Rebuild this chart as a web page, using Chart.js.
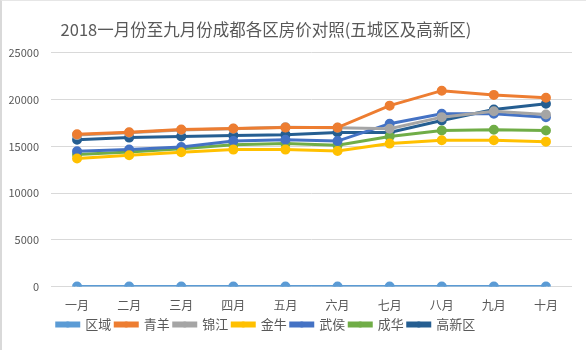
<!DOCTYPE html>
<html>
<head>
<meta charset="utf-8">
<title>成都各区房价</title>
<script src="https://cdn.jsdelivr.net/npm/chart.js@4.4.1/dist/chart.umd.min.js"></script>
<style>
  html, body { margin: 0; padding: 0; background: #fff; }
  #wrap { position: relative; width: 586px; height: 350px; box-sizing: border-box; border-left: 2px solid #d9d9d9; border-top: 1px solid #e6e6e6; }
</style>
</head>
<body>
<div id="wrap"><canvas id="myChart" width="584" height="349"></canvas></div>
<script>
  var months = ["一月","二月","三月","四月","五月","六月","七月","八月","九月","十月"];

  var quyu     = [0, 0, 0, 0, 0, 0, 0, 0, 0, 0];
  var qingyang = [16300, 16500, 16800, 16900, 17000, 17000, 19350, 20950, 20500, 20200];
  var jinjiang = [16200, 16450, 16750, 16880, 17050, 16990, 16880, 18120, 18750, 18400];
  var jinniu   = [13700, 14050, 14360, 14650, 14650, 14500, 15290, 15640, 15640, 15500];
  var wuhou    = [14470, 14650, 14930, 15560, 15710, 15560, 17420, 18480, 18480, 18120];
  var chenghua = [14120, 14390, 14750, 15180, 15290, 15110, 16060, 16700, 16780, 16700];
  var gaoxin   = [15710, 15930, 16060, 16170, 16250, 16490, 16490, 17770, 18940, 19550];

  var yTicks = [0, 5000, 10000, 15000, 20000, 25000];

  function line(name, values, color) {
    return {
      label: name,
      data: values,
      borderColor: color,
      backgroundColor: color,
      borderWidth: 3,
      pointRadius: 3.5,
      pointHoverRadius: 3.5,
      pointBackgroundColor: color,
      pointBorderColor: color,
      tension: 0
    };
  }

  var legendShift = -21;
  var titleShift = -21;

  // title and legend sit a bit left of centre in the original, each legend key has a dot
  var tweaks = {
    id: "tweaks",
    afterLayout: function (chart) {
      var lg = chart.legend;
      lg.left += legendShift;
      lg.right += legendShift;
      lg.legendHitBoxes.forEach(function (b) { b.left += legendShift; });
      var t = chart.titleBlock;
      if (t) { t.left += titleShift; t.right += titleShift; }
    },
    afterDraw: function (chart) {
      var lg = chart.legend;
      if (!lg || !lg.legendHitBoxes) return;
      var c = chart.ctx;
      var bw = lg.options.labels.boxWidth;
      lg.legendHitBoxes.forEach(function (box, i) {
        var ds = chart.data.datasets[i];
        c.save();
        c.fillStyle = ds.borderColor;
        c.beginPath();
        c.arc(box.left + bw / 2, box.top + box.height / 2, 3, 0, Math.PI * 2);
        c.fill();
        c.restore();
      });
    }
  };

  var ctx = document.getElementById("myChart");
  var font = "'Noto Sans CJK SC', 'Noto Sans', sans-serif";

  new Chart(ctx, {
    type: "line",
    data: {
      labels: months,
      datasets: [
        line("区域", quyu, "#5B9BD5"),
        line("青羊", qingyang, "#ED7D31"),
        line("锦江", jinjiang, "#A5A5A5"),
        line("金牛", jinniu, "#FFC000"),
        line("武侯", wuhou, "#4472C4"),
        line("成华", chenghua, "#70AD47"),
        line("高新区", gaoxin, "#255E91")
      ]
    },
    plugins: [tweaks],
    options: {
      responsive: false,
      animation: false,
      layout: { padding: { left: 0, right: 14, top: 6, bottom: 9 } },
      plugins: {
        title: {
          display: true,
          text: "2018一月份至九月份成都各区房价对照(五城区及高新区)",
          color: "#595959",
          font: { family: font, size: 16.5, weight: "normal" },
          padding: { top: 13, bottom: 13 }
        },
        legend: {
          position: "bottom",
          labels: {
            color: "#595959",
            font: { family: font, size: 13 },
            boxWidth: 22,
            boxHeight: 3,
            padding: 4
          }
        },
        tooltip: { enabled: false }
      },
      scales: {
        x: {
          offset: true,
          grid: { display: false, drawTicks: false },
          border: { display: false },
          ticks: { color: "#595959", font: { family: font, size: 12 }, padding: 12 },
          afterFit: function (axis) { axis.height -= 11; }
        },
        y: {
          min: 0,
          max: 25000,
          afterBuildTicks: function (axis) {
            axis.ticks = yTicks.map(function (v) { return { value: v }; });
          },
          afterFit: function (axis) { axis.width = 49; },
          grid: { color: "#d9d9d9", drawTicks: false },
          border: { display: false },
          ticks: {
            color: "#595959",
            font: { family: font, size: 11 },
            padding: 12,
            callback: function (v) { return String(v); }
          }
        }
      }
    }
  });
</script>
</body>
</html>
